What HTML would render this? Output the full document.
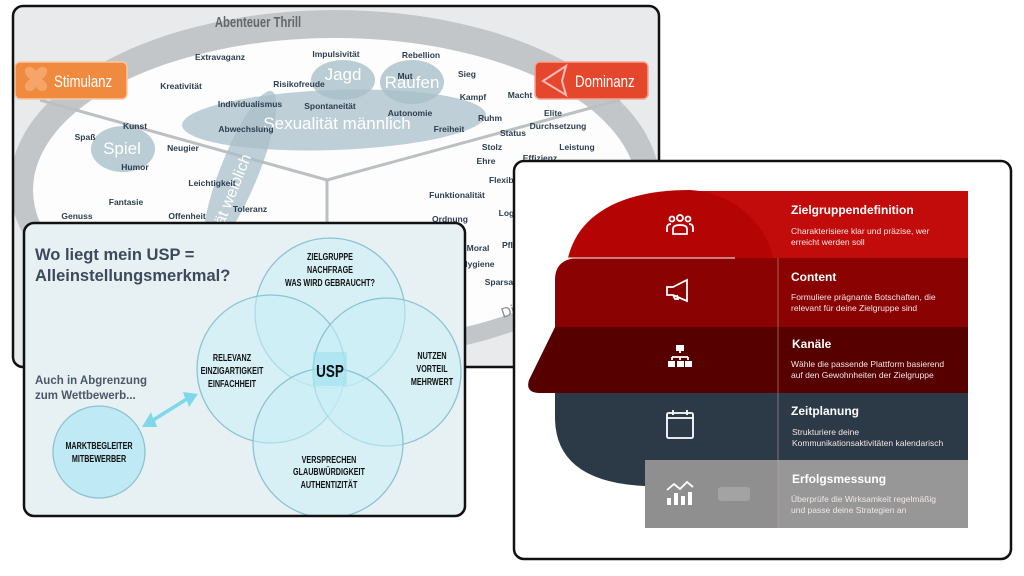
<!DOCTYPE html>
<html><head><meta charset="utf-8"><style>
html,body{margin:0;padding:0;background:#fff;}
svg{display:block;}
.w{font-family:"Liberation Sans",sans-serif;font-weight:bold;font-size:8.5px;fill:#2c3e50;text-anchor:middle;}
.v{font-family:"Liberation Sans",sans-serif;font-weight:bold;font-size:10px;fill:#111;text-anchor:middle;}
.t{font-family:"Liberation Sans",sans-serif;font-weight:bold;font-size:12px;fill:#fff;}
.d{font-family:"Liberation Sans",sans-serif;font-size:8.5px;fill:#f2e6e6;}
</style></head><body>
<svg width="1024" height="576" viewBox="0 0 1024 576" xmlns="http://www.w3.org/2000/svg">
<defs>
<clipPath id="c1"><rect x="13" y="6" width="646" height="361" rx="10"/></clipPath>
<clipPath id="c2"><rect x="24" y="223" width="441" height="293" rx="10"/></clipPath>
</defs>
<!-- Panel 1 -->
<g clip-path="url(#c1)">
<rect x="13" y="6" width="646" height="361" fill="#e9eaeb"/>
<ellipse cx="335" cy="185" rx="325" ry="175" fill="#c3c6c9"/>
<ellipse cx="335" cy="190" rx="302" ry="152" fill="#fdfdfd"/>
<line x1="327" y1="180" x2="40" y2="100" stroke="#bcc0c3" stroke-width="3"/>
<line x1="327" y1="180" x2="620" y2="100" stroke="#bcc0c3" stroke-width="3"/>
<line x1="327" y1="180" x2="327" y2="370" stroke="#bcc0c3" stroke-width="3"/>
<g transform="translate(258 27) scale(0.75 1)"><text x="0" y="0" font-family="Liberation Sans,sans-serif" font-weight="bold" font-size="15" fill="#666" text-anchor="middle">Abenteuer Thrill</text></g>
<text x="503" y="318" font-family="Liberation Sans,sans-serif" font-size="14" fill="#888" transform="rotate(-18 503 318)">Dis</text>
<ellipse cx="334" cy="120" rx="152" ry="30" fill="#a9bfc9" opacity="0.75" transform="rotate(-2 334 120)"/>
<ellipse cx="240" cy="170" rx="19" ry="85" fill="#a9bfc9" opacity="0.75" transform="rotate(22 240 170)"/>
<ellipse cx="343" cy="80" rx="32" ry="20" fill="#a9bfc9" opacity="0.8"/>
<ellipse cx="412" cy="82" rx="32" ry="22" fill="#a9bfc9" opacity="0.8"/>
<ellipse cx="123" cy="149" rx="32" ry="23" fill="#a9bfc9" opacity="0.8"/>
<g font-family="Liberation Sans,sans-serif" fill="#fff" text-anchor="middle" font-size="17">
<text x="343" y="80">Jagd</text><text x="412" y="88">Raufen</text><text x="122" y="154">Spiel</text>
<text x="337" y="129">Sexualität männlich</text>
<text x="232" y="205" font-size="16" transform="rotate(-68 232 205)">ualität weiblich</text>
</g>
<g class="w">
<text x="220" y="60">Extravaganz</text><text x="336" y="57">Impulsivität</text><text x="421" y="58">Rebellion</text>
<text x="405" y="79">Mut</text><text x="467" y="77">Sieg</text><text x="181" y="89">Kreativität</text><text x="299" y="87">Risikofreude</text>
<text x="473" y="100">Kampf</text><text x="520" y="98">Macht</text><text x="250" y="107">Individualismus</text><text x="330" y="109">Spontaneität</text>
<text x="410" y="116">Autonomie</text><text x="553" y="116">Elite</text><text x="135" y="129">Kunst</text><text x="85" y="140">Spaß</text>
<text x="246" y="132">Abwechslung</text><text x="449" y="132">Freiheit</text><text x="490" y="121">Ruhm</text><text x="558" y="129">Durchsetzung</text>
<text x="513" y="136">Status</text><text x="183" y="151">Neugier</text><text x="492" y="150">Stolz</text><text x="577" y="150">Leistung</text>
<text x="135" y="170">Humor</text><text x="486" y="164">Ehre</text><text x="540" y="161">Effizienz</text><text x="510" y="183">Flexibilität</text><text x="212" y="186">Leichtigkeit</text>
<text x="457" y="198">Funktionalität</text><text x="126" y="205">Fantasie</text><text x="250" y="212">Toleranz</text><text x="77" y="219">Genuss</text>
<text x="187" y="219">Offenheit</text><text x="450" y="222">Ordnung</text><text x="510" y="216">Logik</text><text x="515" y="248">Pflicht</text>
<text x="478" y="251">Moral</text><text x="478" y="267">Hygiene</text><text x="510" y="285">Sparsamkeit</text>
</g>
<rect x="15" y="62" width="112" height="37" rx="5" fill="#ef8a3f" stroke="#f6c9a3" stroke-width="1.5"/>
<path d="M26 68 q6-3 10 3 q4-6 10-3 q3 6-4 11 q7 5 4 11 q-6 3-10-3 q-4 6-10 3 q-3-6 4-11 q-7-5-4-11z" fill="#f6a56a"/>
<g transform="translate(54 87) scale(0.78 1)"><text x="0" y="0" font-family="Liberation Sans,sans-serif" font-size="17" fill="#fff">Stimulanz</text></g>
<rect x="535" y="62" width="113" height="37" rx="5" fill="#e5472d" stroke="#f3a493" stroke-width="1.5"/>
<path d="M566 66 L543 81 L566 95 L562 81 Z" fill="none" stroke="#fbb" stroke-width="2"/>
<g transform="translate(575 87) scale(0.78 1)"><text x="0" y="0" font-family="Liberation Sans,sans-serif" font-size="17" fill="#fff">Dominanz</text></g>
</g>
<rect x="13" y="6" width="646" height="361" rx="10" fill="none" stroke="#111" stroke-width="2.5"/>

<!-- Panel 2 -->
<g clip-path="url(#c2)">
<rect x="24" y="223" width="441" height="293" fill="#e7f1f4"/>
<g fill="#c8eef6" fill-opacity="0.55" stroke="#8dc3d3" stroke-width="1.3">
<circle cx="330" cy="313" r="75"/><circle cx="271" cy="369" r="74"/><circle cx="387" cy="372" r="74"/><circle cx="328" cy="443" r="75"/>
<circle cx="99" cy="452" r="46" fill="#bfe9f4" fill-opacity="1"/>
</g>
<rect x="313" y="352" width="34" height="34" fill="#9ce0f0" opacity="0.6"/>
<path d="M142 427 L151 412 L153 418 L185 398 L183 392 L198 394 L189 407 L187 401 L155 421 L157 427 Z" fill="#7fd8ea"/>
</g>
<text x="35" y="260" font-family="Liberation Sans,sans-serif" font-weight="bold" font-size="16.5" fill="#3c4a5a">Wo liegt mein USP =</text>
<text x="35" y="281" font-family="Liberation Sans,sans-serif" font-weight="bold" font-size="16.5" fill="#3c4a5a">Alleinstellungsmerkmal?</text>
<text x="35" y="384" font-family="Liberation Sans,sans-serif" font-weight="bold" font-size="11.5" fill="#4a5868">Auch in Abgrenzung</text>
<text x="35" y="399" font-family="Liberation Sans,sans-serif" font-weight="bold" font-size="11.5" fill="#4a5868">zum Wettbewerb...</text>
<g class="v">
<g transform="translate(330 0) scale(0.72 1)"><text x="0" y="260">ZIELGRUPPE</text><text x="0" y="273">NACHFRAGE</text><text x="0" y="286">WAS WIRD GEBRAUCHT?</text></g>
<g transform="translate(232 0) scale(0.72 1)"><text x="0" y="361">RELEVANZ</text><text x="0" y="374">EINZIGARTIGKEIT</text><text x="0" y="387">EINFACHHEIT</text></g>
<g transform="translate(432 0) scale(0.72 1)"><text x="0" y="359">NUTZEN</text><text x="0" y="372">VORTEIL</text><text x="0" y="385">MEHRWERT</text></g>
<g transform="translate(329 0) scale(0.72 1)"><text x="0" y="463">VERSPRECHEN</text><text x="0" y="475">GLAUBWÜRDIGKEIT</text><text x="0" y="488">AUTHENTIZITÄT</text></g>
<g transform="translate(99 0) scale(0.72 1)"><text x="0" y="449">MARKTBEGLEITER</text><text x="0" y="462">MITBEWERBER</text></g>
<g transform="translate(330 0) scale(0.75 1)"><text x="0" y="377" font-size="18">USP</text></g>
</g>
<rect x="24" y="223" width="441" height="293" rx="10" fill="none" stroke="#111" stroke-width="2.5"/>

<!-- Panel 3 -->
<rect x="514" y="161" width="497" height="398" rx="10" fill="#fff" stroke="#111" stroke-width="2.5"/>
<rect x="700" y="191" width="268" height="67" fill="#c20c0c"/>
<path d="M568 258 C578 215 620 190 690 190 C730 192 765 220 773 258 Z" fill="#b50404"/>
<path d="M555 327 L555 280 Q555 258 580 258 L968 258 L968 327 Z" fill="#8a0202"/>
<path d="M555 327 L529 380 Q525 393 540 393 L968 393 L968 327 Z" fill="#560000"/>
<path d="M555 393 L968 393 L968 460 L645 460 L645 486 Q557 482 555 420 Z" fill="#2c3947"/>
<rect x="645" y="460" width="323" height="68" fill="#8f8f8f"/>
<rect x="778" y="460" width="190" height="68" fill="#979797"/>
<rect x="718" y="487" width="32" height="14" rx="3" fill="#a3a3a3"/>
<line x1="778" y1="258" x2="778" y2="528" stroke="#c9a0a0" stroke-width="0.8" opacity="0.7"/>
<line x1="568" y1="258" x2="735" y2="258" stroke="#e8c8c8" stroke-width="1.2"/>
<g fill="none" stroke="#fff" stroke-width="1.8">
<circle cx="672" cy="219" r="2.5"/><circle cx="680" cy="218" r="3"/><circle cx="688" cy="219" r="2.5"/>
<path d="M667 232 v-4 q0-4 4-4 M693 232 v-4 q0-4-4-4 M673 234 v-5 q0-4 7-4 q7 0 7 4 v5 z"/>
<path d="M667 287 h6 l14-7 v21 l-14-6 h-6 z M673 295 l2 4 h3 l-1-4"/>
<path d="M680 348 v5 M672 357 h16 M672 357 v3 M680 357 v3 M688 357 v3"/>
<rect x="667" y="413" width="26" height="25" rx="1.5"/><path d="M667 418 h26 M673 410 v5 M687 410 v5"/>
<path d="M667 490 l7-6 6 5 7-7 6 5"/>
</g>
<g fill="#fff">
<rect x="676" y="345" width="8" height="6"/><rect x="668" y="361" width="7" height="6"/><rect x="677" y="361" width="7" height="6"/><rect x="685" y="361" width="7" height="6"/>
<rect x="667" y="498" width="4" height="7"/><rect x="674" y="493" width="4" height="12"/><rect x="681" y="496" width="4" height="9"/><rect x="688" y="492" width="4" height="13"/>
</g>
<text class="t" x="791" y="214">Zielgruppendefinition</text>
<text class="d" x="791" y="234">Charakterisiere klar und präzise, wer</text>
<text class="d" x="791" y="245">erreicht werden soll</text>
<text class="t" x="791" y="281">Content</text>
<text class="d" x="791" y="300">Formuliere prägnante Botschaften, die</text>
<text class="d" x="791" y="311">relevant für deine Zielgruppe sind</text>
<text class="t" x="792" y="348">Kanäle</text>
<text class="d" x="791" y="367">Wähle die passende Plattform basierend</text>
<text class="d" x="791" y="378">auf den Gewohnheiten der Zielgruppe</text>
<text class="t" x="791" y="415">Zeitplanung</text>
<text class="d" x="792" y="435">Strukturiere deine</text>
<text class="d" x="792" y="446">Kommunikationsaktivitäten kalendarisch</text>
<text class="t" x="792" y="483">Erfolgsmessung</text>
<text class="d" x="791" y="502">Überprüfe die Wirksamkeit regelmäßig</text>
<text class="d" x="791" y="513">und passe deine Strategien an</text>
</svg>
</body></html>
